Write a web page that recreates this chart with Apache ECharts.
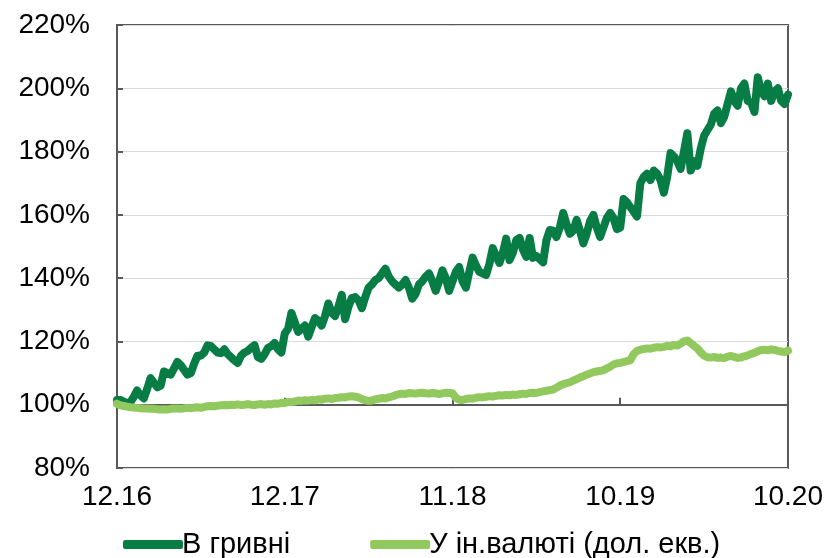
<!DOCTYPE html>
<html>
<head>
<meta charset="utf-8">
<script src="https://cdn.jsdelivr.net/npm/echarts@6/dist/echarts.min.js"></script>
<style>
html,body{margin:0;padding:0;background:#fff;}
#chart{width:826px;height:558px;}
</style>
</head>
<body>
<div id="chart"></div>
<script>
// Tick labels on the category axis (index -> label)
const tickIndex = [0, 50, 100, 150, 200];
const tickLabels = ['12.16', '12.17', '11.18', '10.19', '10.20'];

const seriesNames = ['В гривні', 'У ін.валюті (дол. екв.)'];

// Deposits in UAH, % of Dec-2016 level
const uah = [
101.5,101.5,101,100.5,100.8,102.5,104.5,103,102,105,
108.4,107,105.5,106,110.5,110,109.5,111.5,113.5,112.5,
111,109.5,110,113,115.5,115.5,116.5,118.8,118.5,117.5,
116.5,116.3,117.5,116,115,114,113.2,115.5,116.5,117,
118,118.8,115,114.5,116,118,118.5,119.5,117.5,116.5,
122.5,124,129,126,123,124,125,121.5,124.5,127.4,
126.5,125,128,132,129,128,131,134.7,127,131,
133.7,134,133,130.5,134,137,138,139.4,140,141.5,
143,140.5,139,138,137,138,139.4,137,133.5,135,
138,139,140.5,141.5,139,136,139,142.5,140,136,
139,142,143.5,139,137,142,146.5,144,142,141.5,
141,144.5,149.5,147,144.8,148,152.5,145.7,148,152,
152.7,149,146.7,152.7,146.4,147,146,145,152,155.2,
155,153,156,160.6,157,154,155,158.4,155,151,
154,158,160,156,153,156,159,160.6,159,155.5,
156,165,164,162.5,161,159.5,170,172,173,171,
174,173,171,167,172,179.5,178.5,177,174.5,180,
185.8,174,177,175.5,181,185,186.8,188.5,192,193,
189,191,195,199,196,194.5,200,201.5,196,195.5,
192.5,203.5,199,197.5,201.5,196,199,200,196,195,
198
];

// Deposits in foreign currency (USD equivalent), % of Dec-2016 level
const fx = [
100.3,99.8,99.6,99.4,99.2,99.1,99.0,98.9,98.8,98.8,
98.7,98.7,98.6,98.5,98.6,98.5,98.7,98.8,98.8,98.7,
98.9,99.0,98.9,99.1,99.2,99.0,99.3,99.5,99.6,99.5,
99.7,99.8,99.9,99.8,100.0,99.9,100.1,99.9,100.0,100.2,
100.0,99.9,100.1,100.2,100.0,100.2,100.1,100.4,100.3,100.6,
100.5,100.9,100.8,101.0,101.3,101.2,101.4,101.3,101.5,101.4,
101.7,101.6,101.9,102.0,101.8,102.1,102.2,102.4,102.3,102.6,
102.7,102.5,102.3,101.8,101.4,101.2,101.3,101.7,101.9,102.1,
102.0,102.3,102.6,103.0,103.3,103.5,103.4,103.7,103.6,103.5,
103.7,103.8,103.6,103.5,103.7,103.6,103.4,103.6,103.8,103.7,
103.6,102.2,101.6,101.5,101.8,102.0,101.9,102.2,102.4,102.3,
102.5,102.7,102.6,102.8,103.0,102.9,103.1,103.0,103.2,103.1,
103.3,103.5,103.4,103.7,103.8,103.7,104.0,104.2,104.4,104.6,
104.8,105.4,106.0,106.5,106.8,107.1,107.6,108.1,108.6,109.0,
109.5,109.9,110.3,110.5,110.7,110.9,111.5,112.0,112.7,113.1,
113.2,113.5,113.8,114.0,116.0,117.0,117.4,117.6,117.8,117.7,
118.0,118.2,118.1,118.3,118.6,118.5,118.9,118.7,119.3,120.0,
120.3,119.5,118.6,117.8,116.5,115.5,115.0,114.9,115.1,114.8,
114.9,114.7,115.2,115.4,115.1,114.8,114.9,115.3,115.6,116.0,
116.4,116.9,117.3,117.4,117.2,117.5,117.3,117.0,116.8,116.6,
117.1
];

const categories = uah.map((_, i) => String(i));
const labelFor = {};
tickIndex.forEach((idx, k) => { labelFor[idx] = tickLabels[k]; });

const FONT = "'Liberation Sans', Arial, sans-serif";
const AXIS = '#595959';
const DARK = '#077C45';
const LIGHT = '#92C95F';

const chart = echarts.init(document.getElementById('chart'));
chart.setOption({
  animation: false,
  backgroundColor: '#fff',
  grid: {
    left: 117, right: 38, top: 25, bottom: 90,
    show: true, borderColor: AXIS, borderWidth: 2, backgroundColor: 'transparent'
  },
  legend: {
    left: 118, top: 525,
    itemWidth: 60, itemHeight: 9, itemGap: 80,
    icon: 'roundRect',
    textStyle: { fontFamily: FONT, fontSize: 29, color: '#000', padding: [0, 0, 0, -6] },
    data: seriesNames
  },
  xAxis: [
    {
      type: 'category', data: categories, position: 'bottom', boundaryGap: false,
      axisLine: { show: false }, axisTick: { show: false }, splitLine: { show: false },
      axisLabel: {
        interval: (i) => labelFor[i] !== undefined,
        formatter: (v, i) => labelFor[i] || '',
        fontFamily: FONT, fontSize: 28, color: '#000', margin: 15
      }
    },
    {
      type: 'category', data: categories, position: 'top', boundaryGap: false,
      axisLine: { show: true, onZero: true, onZeroAxisIndex: 1, lineStyle: { color: AXIS, width: 2 } },
      axisTick: { show: true, interval: (i) => labelFor[i] !== undefined && i > 0, length: 7, lineStyle: { color: AXIS, width: 2 } },
      axisLabel: { show: false }, splitLine: { show: false }
    }
  ],
  yAxis: [
    {
      type: 'value', min: 80, max: 220, interval: 20,
      axisLine: { show: true, lineStyle: { color: AXIS, width: 2 } },
      axisTick: { show: true, inside: true, length: 6, lineStyle: { color: AXIS, width: 2 } },
      axisLabel: { formatter: '{value}%', fontFamily: FONT, fontSize: 28, color: '#000', margin: 27 },
      splitLine: { show: true, lineStyle: { color: '#D9D9D9', width: 1 } }
    },
    {
      type: 'value', min: -20, max: 120, interval: 20, show: false,
      splitLine: { show: false }
    }
  ],
  series: [
    {
      name: seriesNames[0], type: 'line', data: uah, xAxisIndex: 0, yAxisIndex: 0,
      showSymbol: false, color: DARK,
      lineStyle: { color: DARK, width: 8, cap: 'round', join: 'round' }
    },
    {
      name: seriesNames[1], type: 'line', data: fx, xAxisIndex: 0, yAxisIndex: 0,
      showSymbol: false, color: LIGHT,
      lineStyle: { color: LIGHT, width: 8, cap: 'round', join: 'round' }
    }
  ]
});
</script>
</body>
</html>
